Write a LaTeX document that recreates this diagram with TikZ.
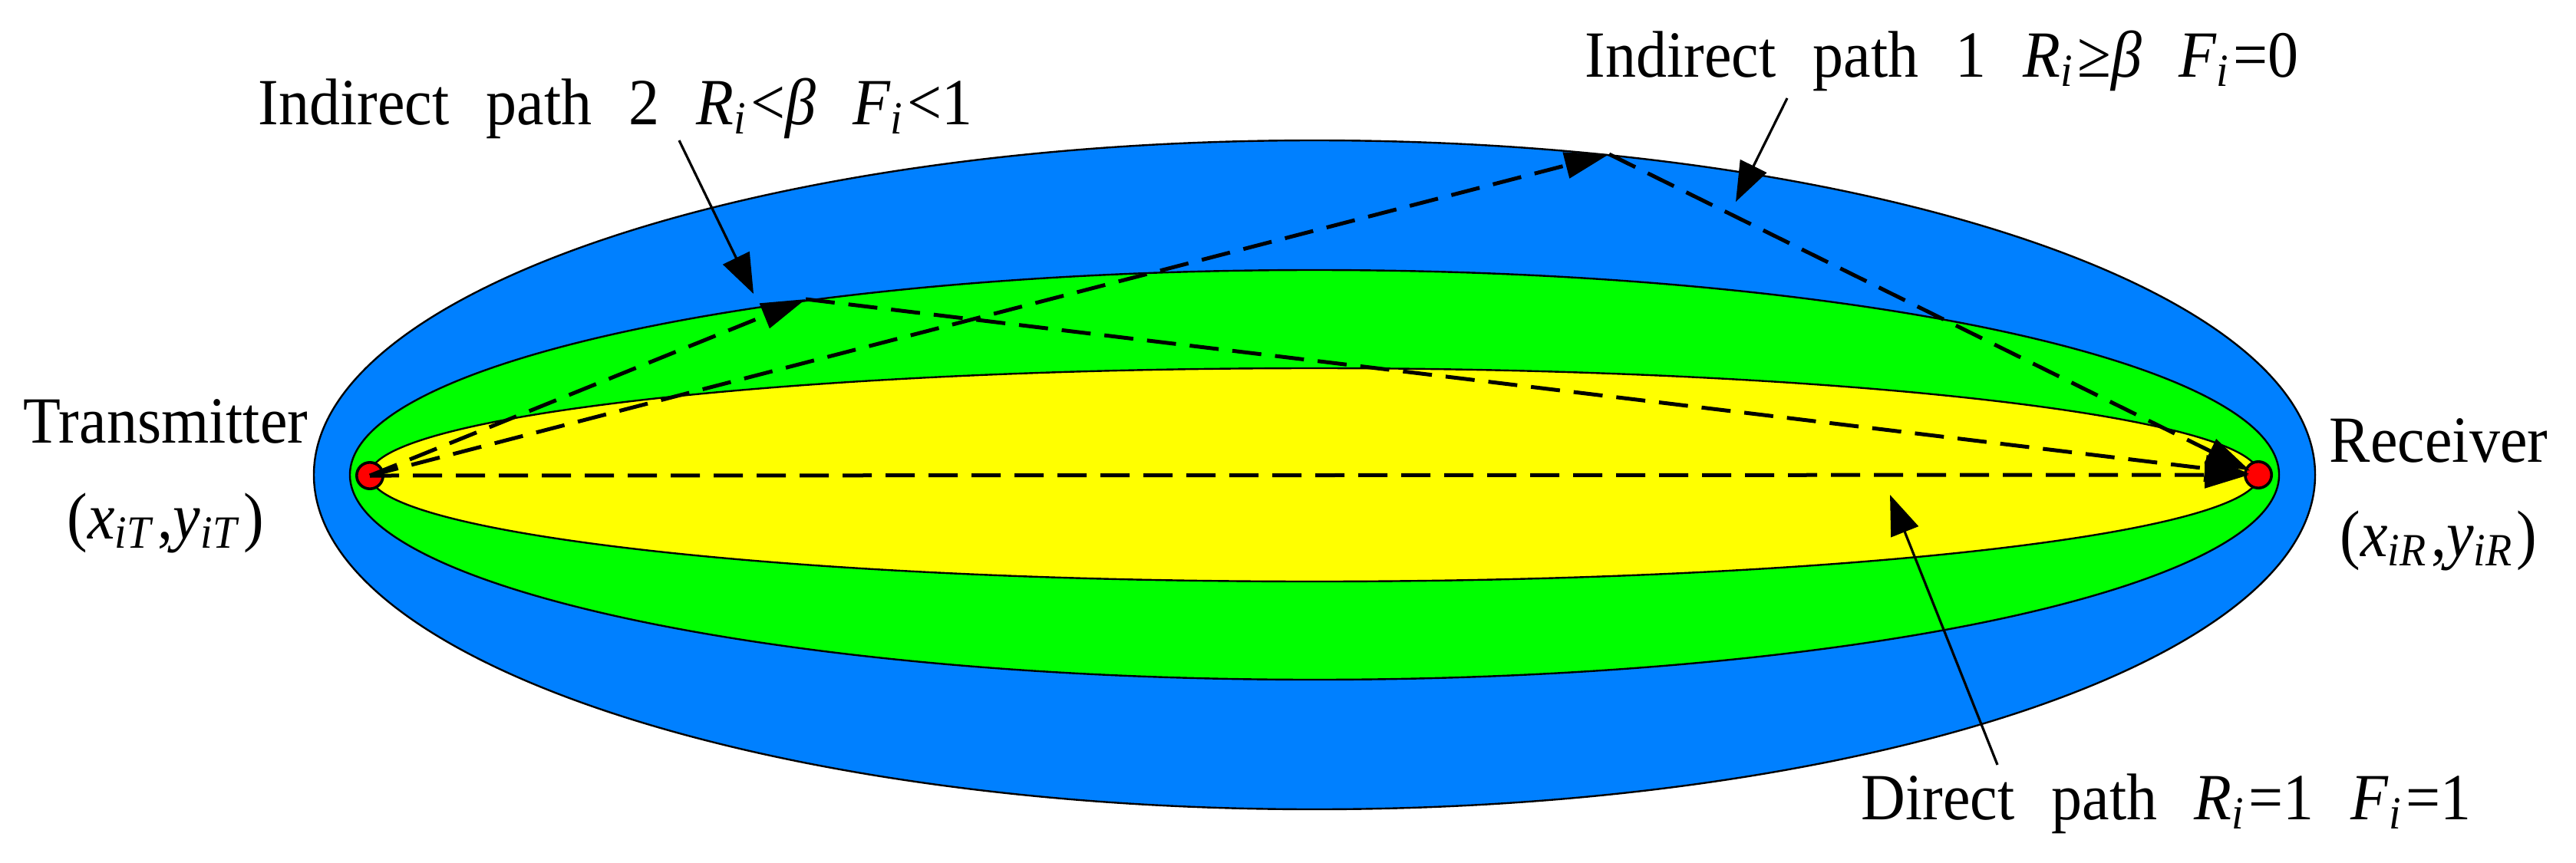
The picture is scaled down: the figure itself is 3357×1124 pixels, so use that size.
\documentclass[tikz,border=0pt]{standalone}
\usepackage{fontspec}
\setmainfont{Liberation Serif}[FakeStretch=0.93]
\usetikzlibrary{arrows.meta}
\definecolor{zblue}{RGB}{0,128,255}
\definecolor{zgreen}{RGB}{0,255,0}
\definecolor{zyellow}{RGB}{255,255,0}
\definecolor{zred}{RGB}{255,0,0}
\newcommand{\myit}[1]{\textit{#1}}
\newcommand{\mysub}[1]{\textsubscript{\textit{#1}}\hspace{0.05em}}
\newcommand{\gap}{\hspace{0.56em}}
\begin{document}
\begin{tikzpicture}[x=0.25pt,y=-0.25pt,
  zone/.style={draw=black, line width=0.6pt},
  raypath/.style={draw=black, line width=1.25pt, dash pattern=on 9.5pt off 4.5pt,
     -{Triangle[length=14.5pt,width=8.5pt]}},
  ptr/.style={draw=black, line width=0.8pt, -{Triangle[length=13pt,width=9.5pt]}},
  dot/.style={circle, draw=black, fill=zred, line width=0.9pt, minimum size=8.6pt, inner sep=0pt},
  lbl/.style={font=\fontsize{21.5}{25}\selectfont, inner sep=0pt}]
\useasboundingbox (0,0) rectangle (3357,1124);
% zones
\draw[zone, fill=zblue] (1713,619) ellipse [x radius=326pt, y radius=109pt];
\draw[zone, fill=zgreen] (1713,619) ellipse [x radius=314.25pt, y radius=66.75pt];
\draw[zone, fill=zyellow] (1713,619) ellipse [x radius=307.75pt, y radius=34.75pt];
% end points
\node[dot] (T) at (482,620) {};
\node[dot] (R) at (2943,619) {};
\coordinate (P1) at (2097,201);
\coordinate (P2) at (1050,390);
% paths
\draw[raypath] (T.center) -- (P1);
\draw[raypath, shorten >=3pt] (P1) -- (R.center);
\draw[raypath] (T.center) -- (P2);
\draw[raypath, shorten >=3pt] (P2) -- (R.center);
\draw[raypath, shorten >=3pt] (T.center) -- (R.center);
% labels
\node[lbl, anchor=base west] (l2) at (336,162)
  {Indirect\gap path\gap 2\gap\myit{R}\mysub{i}<\myit{β}\gap\myit{F}\mysub{i}<1};
\node[lbl, anchor=base west] (l1) at (2065,100)
  {Indirect\gap path\gap 1\gap\myit{R}\mysub{i}≥\myit{β}\gap\myit{F}\mysub{i}=0};
\node[lbl, anchor=base west] (ld) at (2425,1068)
  {Direct\gap path\gap\myit{R}\mysub{i}=1\gap\myit{F}\mysub{i}=1};
\node[lbl, anchor=base] (tx) at (216,577) {Transmitter};
\node[lbl, anchor=base] (txc) at (216,702) {(\myit{x}\mysub{iT},\myit{y}\mysub{iT})};
\node[lbl, anchor=base] (rx) at (3178,602) {Receiver};
\node[lbl, anchor=base] (rxc) at (3178,725) {(\myit{x}\mysub{iR},\myit{y}\mysub{iR})};
% pointers
\coordinate (L2s) at (885,183);
\coordinate (L2t) at (982,383);
\coordinate (L1s) at (2329,128);
\coordinate (L1t) at (2262,263);
\coordinate (Ds) at (2603,997);
\coordinate (Dt) at (2463,645);
\draw[ptr] (L2s) -- (L2t);
\draw[ptr] (L1s) -- (L1t);
\draw[ptr] (Ds) -- (Dt);
\end{tikzpicture}
\end{document}
